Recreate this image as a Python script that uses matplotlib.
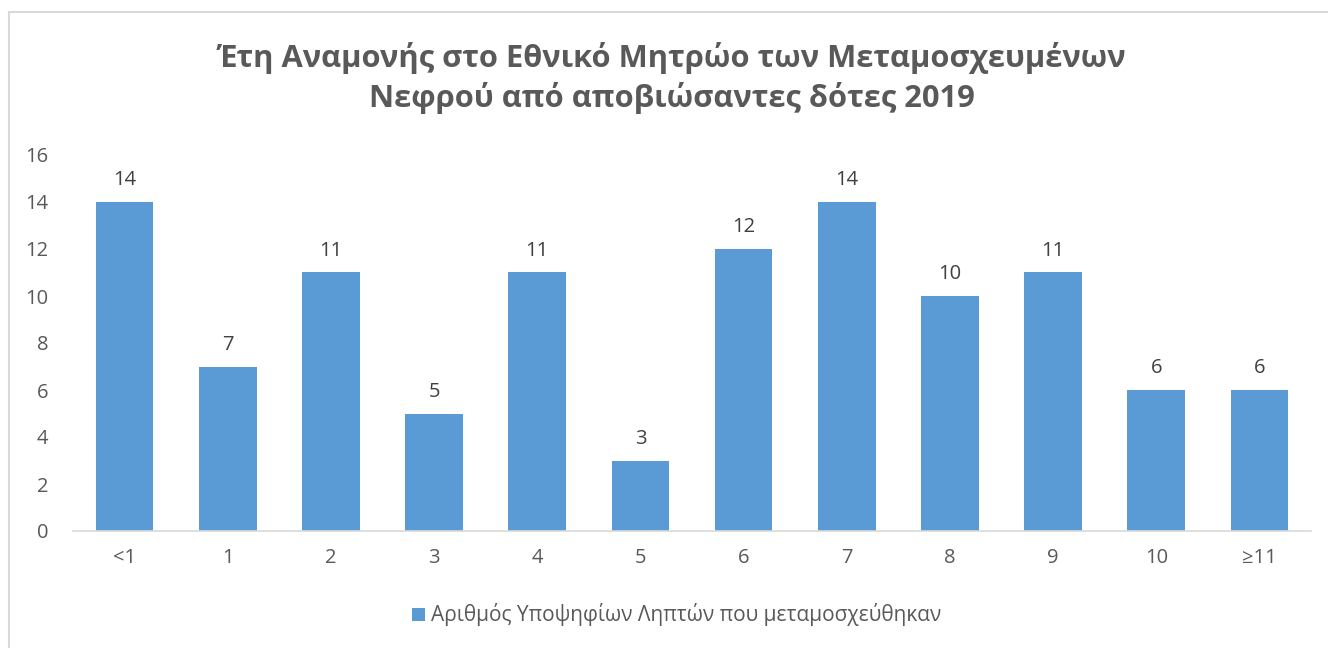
import matplotlib.pyplot as plt
from matplotlib.lines import Line2D

plt.rcParams['font.family'] = ['Open Sans', 'DejaVu Sans']

categories = ['<1', '1', '2', '3', '4', '5', '6', '7', '8', '9', '10', '≥11']
values = [14, 7, 11, 5, 11, 3, 12, 14, 10, 11, 6, 6]
series_name = 'Αριθμός Υποψηφίων Ληπτών που μεταμοσχεύθηκαν'
title = 'Έτη Αναμονής στο Εθνικό Μητρώο των Μεταμοσχευμένων\nΝεφρού από αποβιώσαντες δότες 2019'

W, H = 1328, 648
fig = plt.figure(figsize=(W / 100, H / 100), dpi=100)
ax = fig.add_axes([73 / W, (H - 531) / H, (1311 - 73) / W, (531 - 155) / H])

grey = '#595959'
x = range(len(categories))
bars = ax.bar(x, values, width=0.56, color='#5B9BD5', label=series_name, zorder=2)
for xi, v in zip(x, values):
    ax.text(xi, v + 0.5, str(v), ha='center', va='bottom', fontsize=14.5, color='#404040')

ax.set_xlim(-0.5, 11.5)
ax.set_ylim(0, 16)
ax.set_yticks(range(0, 17, 2))
ax.set_xticks(list(x))
ax.set_xticklabels(categories)
ax.tick_params(axis='both', length=0, labelsize=14.5, colors=grey)
ax.tick_params(axis='x', pad=12)
ax.tick_params(axis='y', pad=18)
for s in ['top', 'right', 'left']:
    ax.spines[s].set_visible(False)
ax.spines['bottom'].set_color('#D9D9D9')
ax.spines['bottom'].set_linewidth(1.2)

fig.text(672 / W, (H - 78) / H, title, ha='center', va='center',
         fontsize=22.2, fontweight='bold', color=grey, linespacing=1.35)

fig.legend(handles=[bars], labels=[series_name], loc='center',
           bbox_to_anchor=(677 / W, (H - 615) / H), frameon=False,
           fontsize=15, labelcolor=grey, handlelength=0.6, handleheight=0.6,
           handletextpad=0.3)

# chart border
fig.add_artist(Line2D([9 / W, 9 / W], [0, (H - 12) / H], color='#D9D9D9', lw=1.5))
fig.add_artist(Line2D([9 / W, 1], [(H - 12) / H, (H - 12) / H], color='#D9D9D9', lw=1.5))

fig.savefig('out.png', dpi=100)
